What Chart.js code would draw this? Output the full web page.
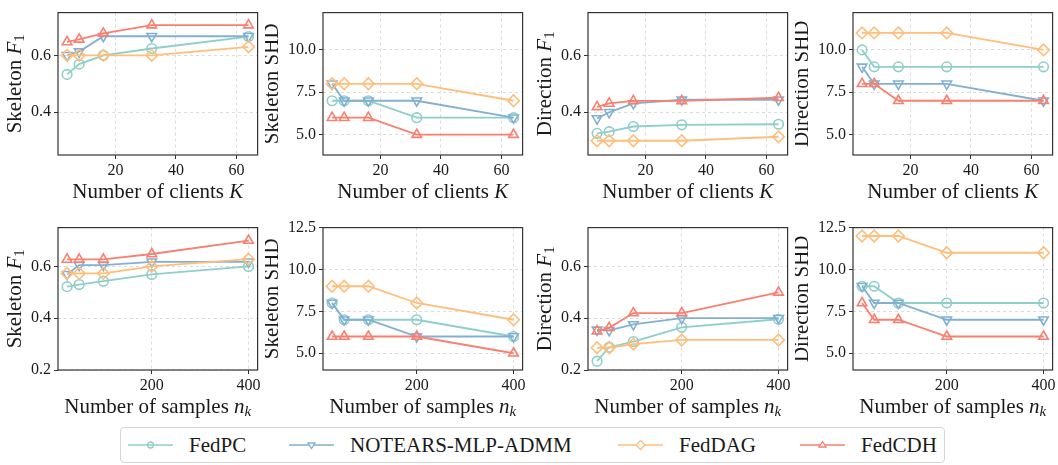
<!DOCTYPE html>
<html>
<head>
<meta charset="utf-8">
<script src="https://cdn.jsdelivr.net/npm/chart.js"></script>
<style>
body { margin: 0; background: #fff; width: 1058px; height: 465px; position: relative; overflow: hidden; font-family: "Liberation Serif", serif; }
canvas { position: absolute; }
#legend { position: absolute; left: 120px; top: 427px; width: 825px; height: 36px; box-sizing: border-box;
  border: 1px solid #d6d6d6; border-radius: 4px; }
#legend .item { position: absolute; top: 0; height: 34px; display: flex; align-items: center; }
#legend .item span { font-size: 21px; color: #1a1a1a; margin-left: 16px; }
</style>
</head>
<body>
<div id="legend"></div>
<script>
// x values
const K_VALUES = [4, 8, 16, 32, 64];
const N_VALUES = [25, 50, 100, 200, 400];
const K_TICKS = [20, 40, 60];
const N_TICKS = [200, 400];

// y ticks
const F1_TICKS_TOP = [0.4, 0.6];
const F1_LABELS_TOP = ['0.4', '0.6'];
const SHD_TICKS_TOP = [5, 7.5, 10];
const SHD_LABELS_TOP = ['5.0', '7.5', '10.0'];
const F1_TICKS_BOT = [0.2, 0.4, 0.6];
const F1_LABELS_BOT = ['0.2', '0.4', '0.6'];
const SHD_TICKS_BOT = [5, 7.5, 10, 12.5];
const SHD_LABELS_BOT = ['5.0', '7.5', '10.0', '12.5'];

const METHODS = ['FedPC', 'NOTEARS-MLP-ADMM', 'FedDAG', 'FedCDH'];
const COLORS = ['#8ECFC9', '#82B0D2', '#FFBE7A', '#FA7F6F'];

// Skeleton F1 vs K
const skelF1K_FedPC   = [0.533, 0.569, 0.600, 0.624, 0.666];
const skelF1K_NOTEARS = [0.600, 0.613, 0.667, 0.667, 0.667];
const skelF1K_FedDAG  = [0.600, 0.600, 0.600, 0.600, 0.630];
const skelF1K_FedCDH  = [0.647, 0.656, 0.677, 0.706, 0.706];
// Skeleton SHD vs K
const skelShdK_FedPC   = [7, 7, 7, 6, 6];
const skelShdK_NOTEARS = [8, 7, 7, 7, 6];
const skelShdK_FedDAG  = [8, 8, 8, 8, 7];
const skelShdK_FedCDH  = [6, 6, 6, 5, 5];
// Direction F1 vs K
const dirF1K_FedPC   = [0.326, 0.332, 0.350, 0.356, 0.358];
const dirF1K_NOTEARS = [0.378, 0.400, 0.431, 0.444, 0.444];
const dirF1K_FedDAG  = [0.300, 0.300, 0.300, 0.300, 0.314];
const dirF1K_FedCDH  = [0.419, 0.431, 0.440, 0.440, 0.451];
// Direction SHD vs K
const dirShdK_FedPC   = [10, 9, 9, 9, 9];
const dirShdK_NOTEARS = [9, 8, 8, 8, 7];
const dirShdK_FedDAG  = [11, 11, 11, 11, 10];
const dirShdK_FedCDH  = [8, 8, 7, 7, 7];
// Skeleton F1 vs n_k
const skelF1N_FedPC   = [0.522, 0.530, 0.543, 0.569, 0.600];
const skelF1N_NOTEARS = [0.570, 0.605, 0.605, 0.618, 0.618];
const skelF1N_FedDAG  = [0.573, 0.573, 0.573, 0.600, 0.628];
const skelF1N_FedCDH  = [0.627, 0.627, 0.627, 0.648, 0.700];
// Skeleton SHD vs n_k
const skelShdN_FedPC   = [8, 7, 7, 7, 6];
const skelShdN_NOTEARS = [8, 7, 7, 6, 6];
const skelShdN_FedDAG  = [9, 9, 9, 8, 7];
const skelShdN_FedCDH  = [6, 6, 6, 6, 5];
// Direction F1 vs n_k
const dirF1N_FedPC   = [0.234, 0.288, 0.310, 0.365, 0.396];
const dirF1N_NOTEARS = [0.355, 0.353, 0.376, 0.400, 0.400];
const dirF1N_FedDAG  = [0.286, 0.286, 0.300, 0.316, 0.316];
const dirF1N_FedCDH  = [0.350, 0.363, 0.420, 0.420, 0.500];
// Direction SHD vs n_k
const dirShdN_FedPC   = [9, 9, 8, 8, 8];
const dirShdN_NOTEARS = [9, 8, 8, 7, 7];
const dirShdN_FedDAG  = [12, 12, 12, 11, 11];
const dirShdN_FedCDH  = [8, 7, 7, 6, 6];

const FONT_FAMILY = '"Liberation Serif"';
const TEXT_COLOR = '#1a1a1a';
const TICK_SIZE = 16;

Chart.defaults.font.family = FONT_FAMILY;
Chart.defaults.font.size = TICK_SIZE;
Chart.defaults.color = TEXT_COLOR;

// titles as rich text segments (it = italic, sub = subscript)
const T_SKEL_F1 = [{t: 'Skeleton '}, {t: 'F', it: true}, {t: '1', sub: true}];
const T_DIR_F1 = [{t: 'Direction '}, {t: 'F', it: true}, {t: '1', sub: true}];
const T_SKEL_SHD = [{t: 'Skeleton SHD'}];
const T_DIR_SHD = [{t: 'Direction SHD'}];
const T_CLIENTS = [{t: 'Number of clients '}, {t: 'K', it: true}];
const T_SAMPLES = [{t: 'Number of samples '}, {t: 'n', it: true}, {t: 'k', it: true, sub: true}];

const MARKERS = [
    {style: 'circle', rot: 0, r: 4.8},
    {style: 'triangle', rot: 180, r: 5.5},
    {style: 'rectRot', rot: 0, r: 5.8},
    {style: 'triangle', rot: 0, r: 5.5}
];

const panels = [
    {left: 0,   top: 0, h: 215, xH: 60, xs: K_VALUES, xMin: 1, xMax: 67, xTicks: K_TICKS, yMin: 0.25, yMax: 0.75, yTicks: F1_TICKS_TOP, yLabels: F1_LABELS_TOP,
     series: [skelF1K_FedPC, skelF1K_NOTEARS, skelF1K_FedDAG, skelF1K_FedCDH], yTitle: T_SKEL_F1, xTitle: T_CLIENTS},
    {left: 265, top: 0, h: 215, xH: 60, xs: K_VALUES, xMin: 1, xMax: 67, xTicks: K_TICKS, yMin: 3.8, yMax: 12.2, yTicks: SHD_TICKS_TOP, yLabels: SHD_LABELS_TOP,
     series: [skelShdK_FedPC, skelShdK_NOTEARS, skelShdK_FedDAG, skelShdK_FedCDH], yTitle: T_SKEL_SHD, xTitle: T_CLIENTS},
    {left: 530, top: 0, h: 215, xH: 60, xs: K_VALUES, xMin: 1, xMax: 67, xTicks: K_TICKS, yMin: 0.25, yMax: 0.75, yTicks: F1_TICKS_TOP, yLabels: F1_LABELS_TOP,
     series: [dirF1K_FedPC, dirF1K_NOTEARS, dirF1K_FedDAG, dirF1K_FedCDH], yTitle: T_DIR_F1, xTitle: T_CLIENTS},
    {left: 795, top: 0, h: 215, xH: 60, xs: K_VALUES, xMin: 1, xMax: 67, xTicks: K_TICKS, yMin: 3.8, yMax: 12.2, yTicks: SHD_TICKS_TOP, yLabels: SHD_LABELS_TOP,
     series: [dirShdK_FedPC, dirShdK_NOTEARS, dirShdK_FedDAG, dirShdK_FedCDH], yTitle: T_DIR_SHD, xTitle: T_CLIENTS},
    {left: 0,   top: 215, h: 212, xH: 57, xs: N_VALUES, xMin: 6.25, xMax: 418.75, xTicks: N_TICKS, yMin: 0.2, yMax: 0.75, yTicks: F1_TICKS_BOT, yLabels: F1_LABELS_BOT,
     series: [skelF1N_FedPC, skelF1N_NOTEARS, skelF1N_FedDAG, skelF1N_FedCDH], yTitle: T_SKEL_F1, xTitle: T_SAMPLES},
    {left: 265, top: 215, h: 212, xH: 57, xs: N_VALUES, xMin: 6.25, xMax: 418.75, xTicks: N_TICKS, yMin: 4, yMax: 12.5, yTicks: SHD_TICKS_BOT, yLabels: SHD_LABELS_BOT,
     series: [skelShdN_FedPC, skelShdN_NOTEARS, skelShdN_FedDAG, skelShdN_FedCDH], yTitle: T_SKEL_SHD, xTitle: T_SAMPLES},
    {left: 530, top: 215, h: 212, xH: 57, xs: N_VALUES, xMin: 6.25, xMax: 418.75, xTicks: N_TICKS, yMin: 0.2, yMax: 0.75, yTicks: F1_TICKS_BOT, yLabels: F1_LABELS_BOT,
     series: [dirF1N_FedPC, dirF1N_NOTEARS, dirF1N_FedDAG, dirF1N_FedCDH], yTitle: T_DIR_F1, xTitle: T_SAMPLES},
    {left: 795, top: 215, h: 212, xH: 57, xs: N_VALUES, xMin: 6.25, xMax: 418.75, xTicks: N_TICKS, yMin: 4, yMax: 12.5, yTicks: SHD_TICKS_BOT, yLabels: SHD_LABELS_BOT,
     series: [dirShdN_FedPC, dirShdN_NOTEARS, dirShdN_FedDAG, dirShdN_FedCDH], yTitle: T_DIR_SHD, xTitle: T_SAMPLES}
];

function segFont(s) {
    const size = s.sub ? 15 : 21;
    return (s.it ? 'italic ' : '') + size + 'px ' + FONT_FAMILY;
}

// draw text made of segments, centred on (cx, cy)
function drawRich(ctx, segs, cx, cy, rot) {
    ctx.save();
    ctx.translate(cx, cy);
    ctx.rotate(rot);
    ctx.textBaseline = 'middle';
    ctx.fillStyle = TEXT_COLOR;
    let widths = segs.map(function (s) { ctx.font = segFont(s); return ctx.measureText(s.t).width; });
    let total = widths.reduce(function (a, b) { return a + b; }, 0);
    let x = -total / 2;
    segs.forEach(function (s, i) {
        ctx.font = segFont(s);
        ctx.fillText(s.t, x, s.sub ? 5 : 0);
        x += widths[i];
    });
    ctx.restore();
}

// frame + axis titles
const axisTitlesPlugin = {
    id: 'axisTitles',
    afterDraw: function (chart, args, opts) {
        const ctx = chart.ctx, a = chart.chartArea;
        ctx.save();
        ctx.strokeStyle = '#333';
        ctx.lineWidth = 1.2;
        ctx.strokeRect(a.left, a.top, a.right - a.left, a.bottom - a.top);
        ctx.font = TICK_SIZE + 'px ' + FONT_FAMILY;
        const w = Math.max.apply(null, opts.yLabels.map(function (t) { return ctx.measureText(t).width; }));
        drawRich(ctx, opts.yTitle, a.left - 7 - w - 5 - 10.5, (a.top + a.bottom) / 2, -Math.PI / 2);
        drawRich(ctx, opts.xTitle, (a.left + a.right) / 2, a.bottom + 37, 0);
        ctx.restore();
    }
};

function BuildPanel(p) {
    const cv = document.createElement('canvas');
    cv.width = 265; cv.height = p.h;
    cv.style.left = p.left + 'px'; cv.style.top = p.top + 'px';
    cv.style.width = '265px'; cv.style.height = p.h + 'px';
    document.body.appendChild(cv);

    const datasets = METHODS.map(function (m, i) {
        return {
            label: m,
            data: p.xs.map(function (x, j) { return {x: x, y: p.series[i][j]}; }),
            borderColor: COLORS[i],
            backgroundColor: 'rgba(255,255,255,0)',
            borderWidth: 1.8,
            pointStyle: MARKERS[i].style,
            rotation: MARKERS[i].rot,
            pointRadius: MARKERS[i].r,
            pointBorderWidth: 1.6,
            pointBackgroundColor: 'rgba(255,255,255,0)',
            pointBorderColor: COLORS[i],
            order: 3 - i
        };
    });

    const tickFont = {family: FONT_FAMILY, size: TICK_SIZE};
    const gridOpts = {color: '#d4d4d4', lineWidth: 0.8, drawTicks: true, tickLength: 4,
        tickColor: '#333', tickWidth: 1, tickBorderDash: []};

    return new Chart(cv.getContext('2d'), {
        type: 'line',
        data: {datasets: datasets},
        options: {
            responsive: false,
            animation: false,
            devicePixelRatio: 1,
            layout: {padding: {top: 4, right: 4, left: 0, bottom: 0}},
            plugins: {
                legend: {display: false},
                tooltip: {enabled: false},
                axisTitles: {yTitle: p.yTitle, xTitle: p.xTitle, yLabels: p.yLabels}
            },
            scales: {
                x: {
                    type: 'linear', min: p.xMin, max: p.xMax, bounds: 'data',
                    afterBuildTicks: function (s) { s.ticks = p.xTicks.map(function (v) { return {value: v}; }); },
                    afterFit: function (s) { s.height = p.xH; },
                    ticks: {autoSkip: false, maxRotation: 0, padding: 2, color: TEXT_COLOR, font: tickFont,
                        callback: function (v) { return String(v); }},
                    grid: gridOpts,
                    border: {display: false, dash: [3, 3]}
                },
                y: {
                    type: 'linear', min: p.yMin, max: p.yMax, bounds: 'data',
                    afterBuildTicks: function (s) { s.ticks = p.yTicks.map(function (v) { return {value: v}; }); },
                    afterFit: function (s) { s.width = 58; },
                    ticks: {autoSkip: false, padding: 3, color: TEXT_COLOR, font: tickFont,
                        callback: function (v) { return p.yLabels[p.yTicks.indexOf(v)]; }},
                    grid: gridOpts,
                    border: {display: false, dash: [3, 3]}
                }
            }
        },
        plugins: [axisTitlesPlugin]
    });
}

panels.forEach(BuildPanel);

// legend (line + marker icon, then label)
const LEGEND_X = [7, 168, 497, 679];
function markerSvg(i) {
    const c = COLORS[i];
    if (i === 0) return '<circle cx="22.5" cy="7" r="3" fill="none" stroke="' + c + '" stroke-width="1.3"/>';
    if (i === 1) return '<polygon points="19,5 26,5 22.5,10.5" fill="#fff" stroke="' + c + '" stroke-width="1.3"/>';
    if (i === 2) return '<polygon points="22.5,2.5 27,7 22.5,11.5 18,7" fill="#fff" stroke="' + c + '" stroke-width="1.3"/>';
    return '<polygon points="22.5,3.5 26,9 19,9" fill="#fff" stroke="' + c + '" stroke-width="1.3"/>';
}
const legendBox = document.getElementById('legend');
METHODS.forEach(function (m, i) {
    const d = document.createElement('div');
    d.className = 'item';
    d.style.left = LEGEND_X[i] + 'px';
    d.innerHTML = '<svg width="45" height="14"><line x1="0" y1="7" x2="45" y2="7" stroke="' + COLORS[i] + '" stroke-width="1.6"/>' +
        markerSvg(i) + '</svg><span>' + m + '</span>';
    legendBox.appendChild(d);
});
</script>
</body>
</html>
